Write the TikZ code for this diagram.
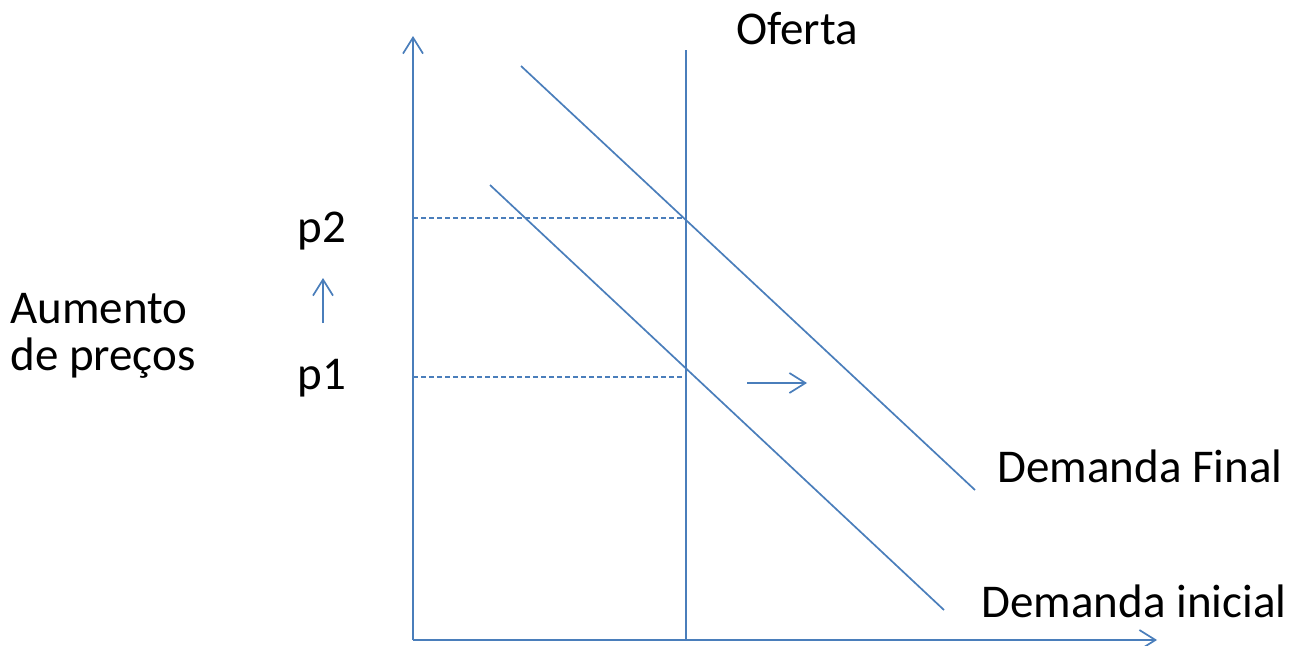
\documentclass[tikz,border=0pt]{standalone}
\usepackage{fontspec}
\setmainfont{Carlito}
\usetikzlibrary{arrows.meta}
\definecolor{lineblue}{HTML}{4A7EBB}
\begin{document}
\begin{tikzpicture}[x=1pt,y=-1pt,
  ln/.style={draw=lineblue,line width=1.7pt},
  arr/.style={ln,-{Straight Barb[length=16pt,width=20pt,line width=1.7pt]}},
  dsh/.style={draw=lineblue,line width=1.3pt,dash pattern=on 5pt off 3pt},
  lbl/.style={anchor=base,inner sep=0pt,font=\fontsize{47}{56}\selectfont}]
\useasboundingbox (0,0) rectangle (1297,645);
% coordinates
\coordinate (O) at (413,640);
\coordinate (ytip) at (413,36);
\coordinate (xtip) at (1157,640);
\coordinate (ofTop) at (686,50);
\coordinate (ofBot) at (686,640);
\coordinate (dfA) at (521,66);
\coordinate (dfB) at (975,490);
\coordinate (diA) at (490,185);
\coordinate (diB) at (944,610);
\coordinate (p2L) at (413,218);
\coordinate (p2R) at (686,218);
\coordinate (p1L) at (413,377);
\coordinate (p1R) at (686,377);
\coordinate (upS) at (323,323);
\coordinate (upT) at (323,278);
\coordinate (rtS) at (747,383);
\coordinate (rtT) at (807,383);
% axes
\draw[arr] (O) -- (ytip);
\draw[arr] (O) -- (xtip);
% supply
\draw[ln] (ofBot) -- (ofTop);
% demands
\draw[ln] (dfA) -- (dfB);
\draw[ln] (diA) -- (diB);
% dashed
\draw[dsh] (p2L) -- (p2R);
\draw[dsh] (p1L) -- (p1R);
% small arrows
\draw[arr] (upS) -- (upT);
\draw[arr] (rtS) -- (rtT);
% labels
\node[lbl] (oferta) at (797,44) {Oferta};
\node[lbl] (p2) at (322,242) {p2};
\node[lbl] (p1) at (322,389) {p1};
\node[lbl] (aum) at (99,323) {Aumento};
\node[lbl] (dep) at (103,370) {de preços};
\node[lbl] (dfin) at (1140,482) {Demanda Final};
\node[lbl] (dini) at (1134,617) {Demanda inicial};
\end{tikzpicture}
\end{document}
